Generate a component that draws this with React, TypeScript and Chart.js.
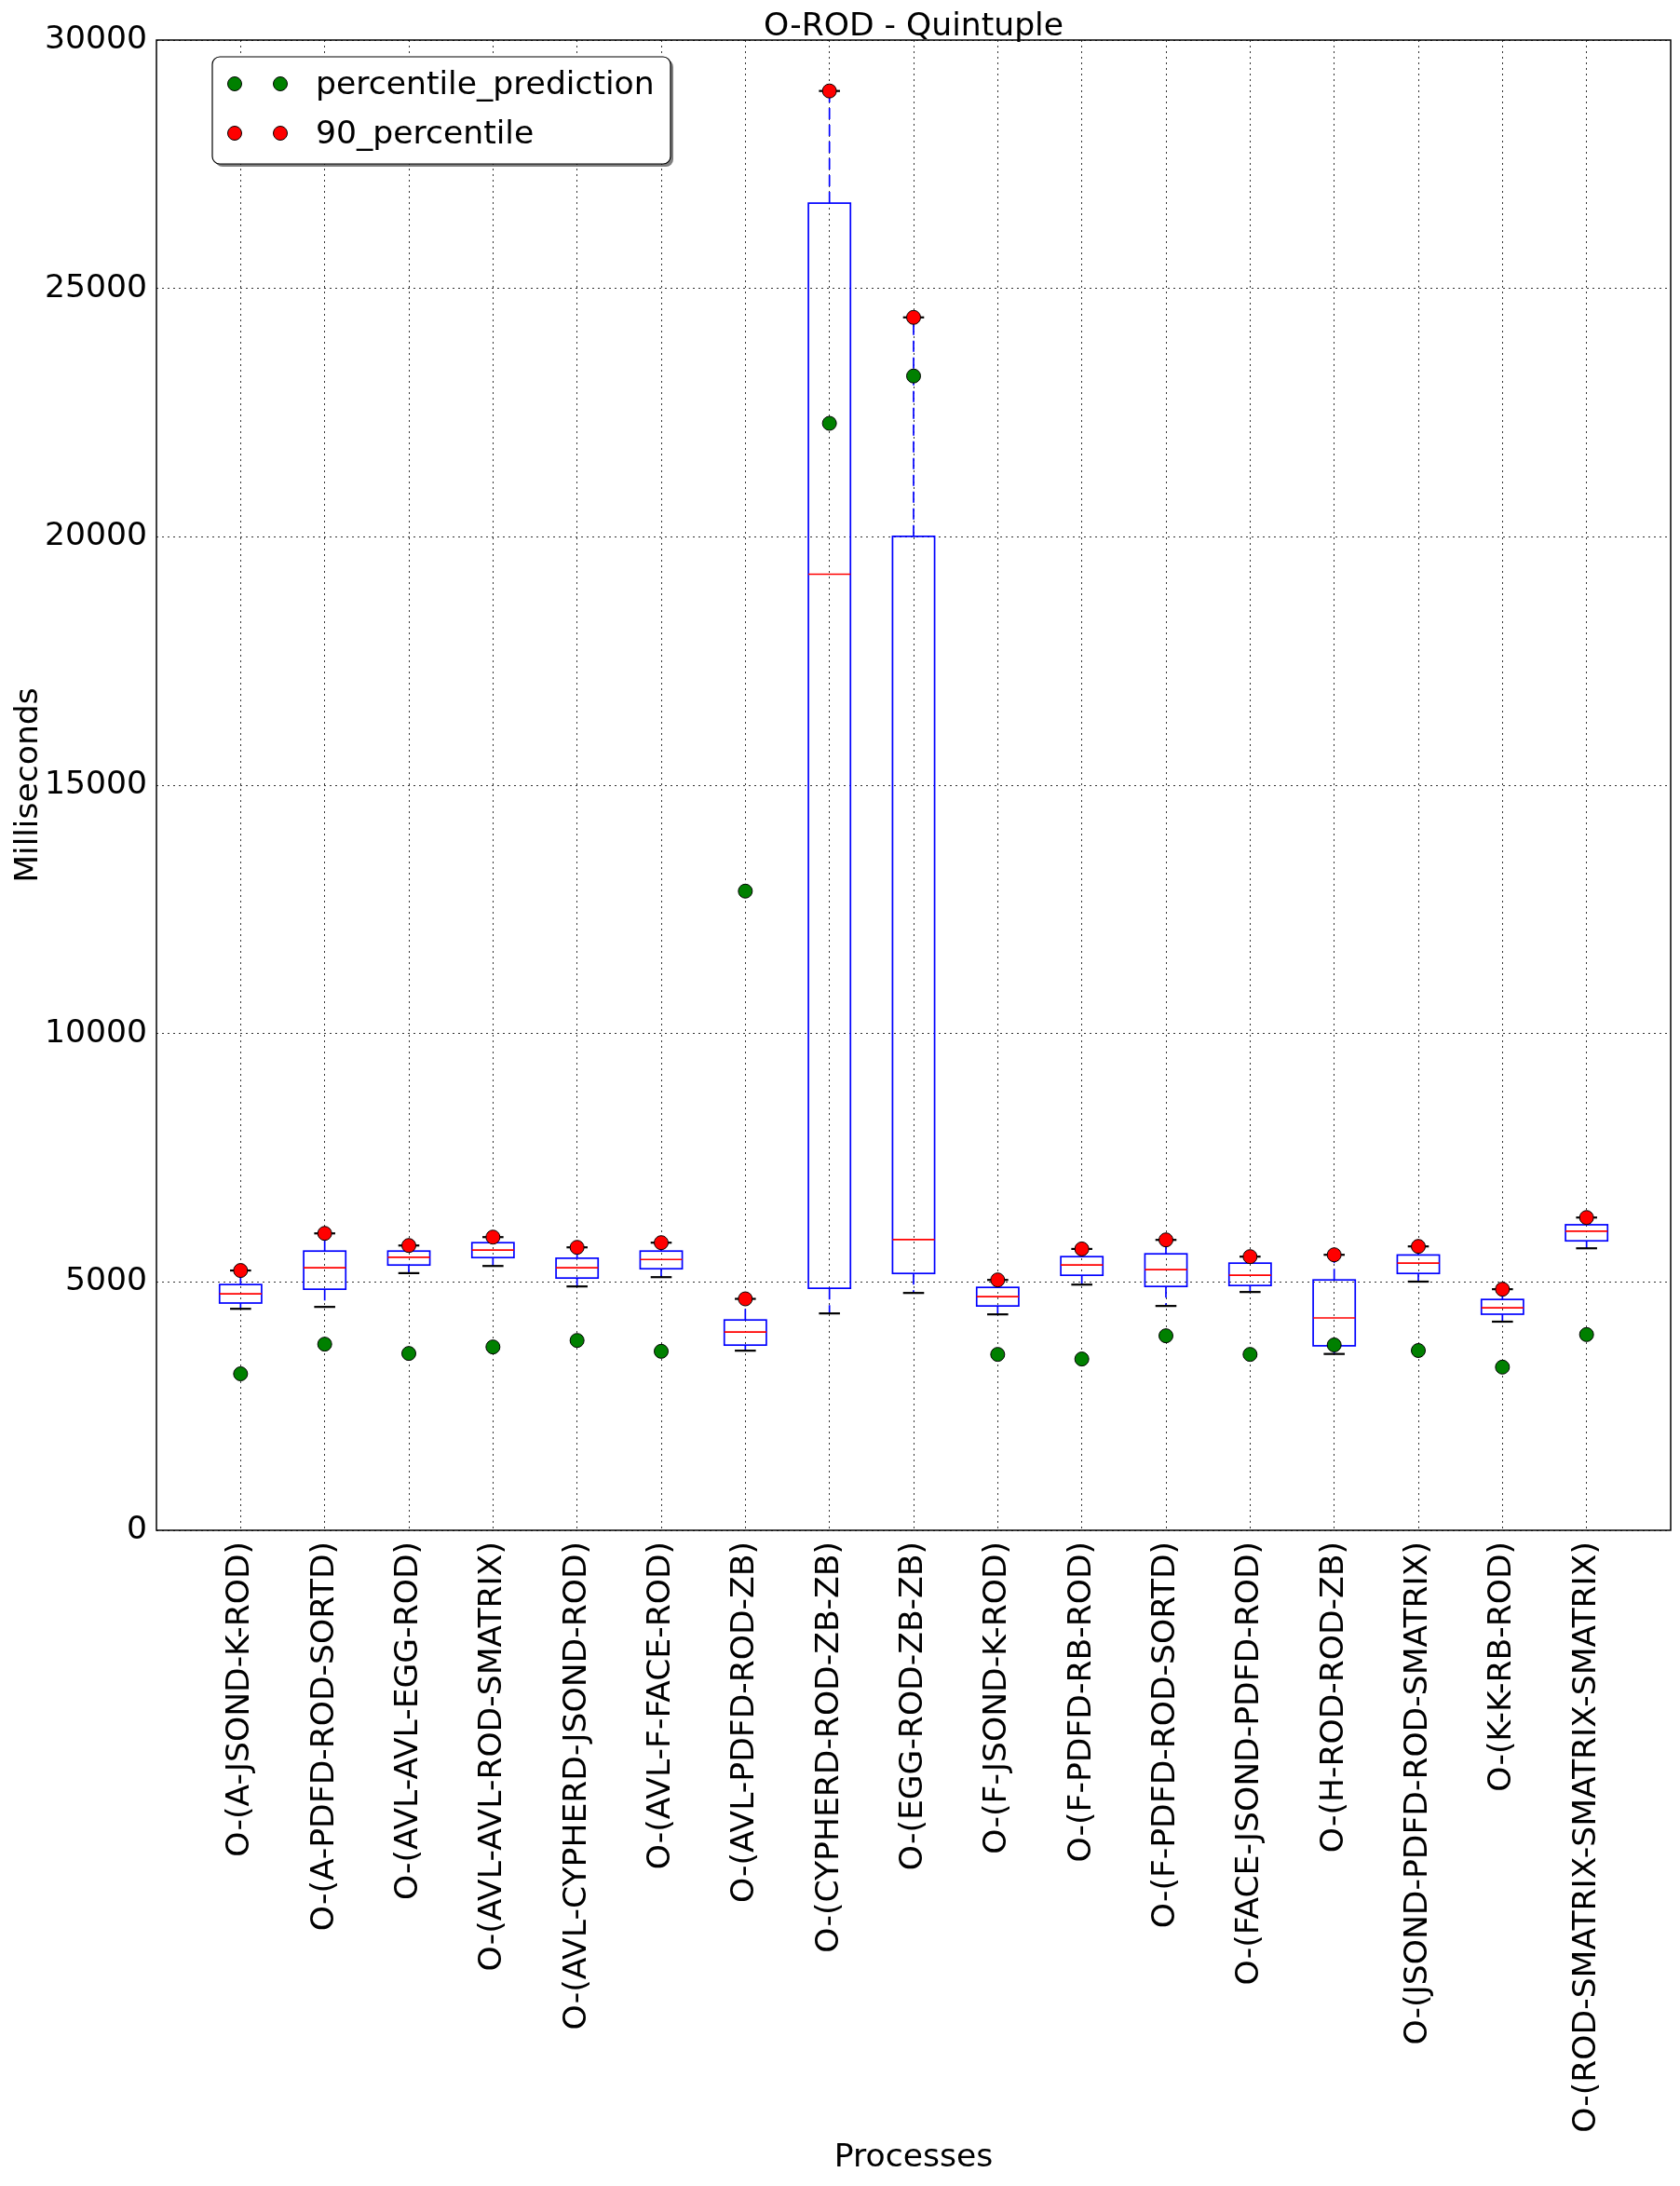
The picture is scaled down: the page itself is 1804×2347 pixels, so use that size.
import React, { useEffect, useRef } from "react";
import { Chart, registerables } from "chart.js";

Chart.register(...registerables);

// ---------- data ----------
const categories = [
  "O-(A-JSOND-K-ROD)",
  "O-(A-PDFD-ROD-SORTD)",
  "O-(AVL-AVL-EGG-ROD)",
  "O-(AVL-AVL-ROD-SMATRIX)",
  "O-(AVL-CYPHERD-JSOND-ROD)",
  "O-(AVL-F-FACE-ROD)",
  "O-(AVL-PDFD-ROD-ZB)",
  "O-(CYPHERD-ROD-ZB-ZB)",
  "O-(EGG-ROD-ZB-ZB)",
  "O-(F-JSOND-K-ROD)",
  "O-(F-PDFD-RB-ROD)",
  "O-(F-PDFD-ROD-SORTD)",
  "O-(FACE-JSOND-PDFD-ROD)",
  "O-(H-ROD-ROD-ZB)",
  "O-(JSOND-PDFD-ROD-SMATRIX)",
  "O-(K-K-RB-ROD)",
  "O-(ROD-SMATRIX-SMATRIX-SMATRIX)",
];

const whiskerLow = [4459, 4497, 5177, 5321, 4909, 5096, 3616, 4366, 4778, 4347, 4946, 4516, 4797, 3550, 5006, 4200, 5677];
const q1 = [4575, 4853, 5340, 5490, 5078, 5265, 3728, 4872, 5171, 4516, 5134, 4909, 4928, 3714, 5171, 4350, 5827];
const median = [4759, 5286, 5496, 5640, 5284, 5452, 3991, 19247, 5852, 4703, 5340, 5246, 5134, 4275, 5378, 4478, 6020];
const q3 = [4947, 5621, 5621, 5790, 5477, 5621, 4234, 26717, 20009, 4890, 5509, 5565, 5378, 5040, 5542, 4647, 6151];
const whiskerHigh = [5230, 5977, 5733, 5902, 5696, 5790, 4659, 28975, 24417, 5040, 5664, 5846, 5509, 5546, 5715, 4853, 6296];
const percentile90 = [5230, 5977, 5733, 5902, 5696, 5790, 4659, 28975, 24417, 5040, 5664, 5846, 5509, 5546, 5715, 4853, 6296];
const percentilePrediction = [3150, 3747, 3560, 3691, 3822, 3603, 12867, 22284, 23237, 3541, 3448, 3916, 3541, 3731, 3619, 3285, 3940];

const yTicks = [0, 5000, 10000, 15000, 20000, 25000, 30000];

const titleText = "O-ROD - Quintuple";
const xTitle = "Processes";
const yTitle = "Milliseconds";
const seriesNames = ["percentile_prediction", "90_percentile"];

// ---------- styling ----------
const FONT = "'DejaVu Sans', 'Liberation Sans', sans-serif";
const FS = 34.6;
const GREEN = "#008000";
const RED = "#ff0000";
const BLUE = "#0000ff";
const PR = 7.5;

const boxPlugin = {
  id: "boxes",
  beforeDatasetsDraw(chart: any) {
    const { ctx } = chart;
    const x = chart.scales.x;
    const y = chart.scales.y;
    const halfBox = x.getPixelForValue(1.25) - x.getPixelForValue(1);
    const halfCap = x.getPixelForValue(1.125) - x.getPixelForValue(1);
    const line = (x1: number, y1: number, x2: number, y2: number) => {
      ctx.beginPath();
      ctx.moveTo(x1, y1);
      ctx.lineTo(x2, y2);
      ctx.stroke();
    };
    categories.forEach((_, i) => {
      const cx = x.getPixelForValue(i + 1);
      const yLow = y.getPixelForValue(whiskerLow[i]);
      const yQ1 = y.getPixelForValue(q1[i]);
      const yMed = y.getPixelForValue(median[i]);
      const yQ3 = y.getPixelForValue(q3[i]);
      const yHigh = y.getPixelForValue(whiskerHigh[i]);
      ctx.save();
      ctx.lineCap = "butt";
      ctx.strokeStyle = BLUE;
      ctx.lineWidth = 1.7;
      ctx.setLineDash([12, 6]);
      line(cx, yQ3, cx, yHigh);
      line(cx, yQ1, cx, yLow);
      ctx.setLineDash([]);
      ctx.strokeStyle = "#000";
      ctx.lineWidth = 2.2;
      line(cx - halfCap, yHigh, cx + halfCap, yHigh);
      line(cx - halfCap, yLow, cx + halfCap, yLow);
      ctx.strokeStyle = BLUE;
      ctx.lineWidth = 1.7;
      ctx.strokeRect(cx - halfBox, yQ3, 2 * halfBox, yQ1 - yQ3);
      ctx.strokeStyle = RED;
      ctx.lineWidth = 1.7;
      line(cx - halfBox, yMed, cx + halfBox, yMed);
      ctx.restore();
    });
  },
};

const decorPlugin = {
  id: "decor",
  afterDraw(chart: any) {
    const { ctx, chartArea } = chart;
    ctx.save();
    ctx.strokeStyle = "#000";
    ctx.lineWidth = 1.5;
    ctx.setLineDash([]);
    ctx.strokeRect(chartArea.left, chartArea.top, chartArea.right - chartArea.left, chartArea.bottom - chartArea.top);

    ctx.fillStyle = "#000";
    ctx.font = `${FS}px ${FONT}`;
    ctx.textAlign = "center";
    ctx.textBaseline = "alphabetic";
    ctx.fillText(titleText, (chartArea.left + chartArea.right) / 2, 38);

    const lx = 228;
    const ly = 61;
    const lw = 492;
    const lh = 115;
    ctx.fillStyle = "rgba(0,0,0,0.5)";
    ctx.beginPath();
    (ctx as any).roundRect(lx + 3, ly + 3, lw, lh, 8);
    ctx.fill();
    ctx.fillStyle = "#fff";
    ctx.strokeStyle = "#000";
    ctx.lineWidth = 1.2;
    ctx.beginPath();
    (ctx as any).roundRect(lx, ly, lw, lh, 8);
    ctx.fill();
    ctx.stroke();

    const rows = [90, 143];
    const baselines = [101, 154];
    const colors = [GREEN, RED];
    rows.forEach((ry, k) => {
      [252, 301].forEach((mx) => {
        ctx.beginPath();
        ctx.arc(mx, ry, PR, 0, Math.PI * 2);
        ctx.fillStyle = colors[k];
        ctx.fill();
        ctx.strokeStyle = "#000";
        ctx.lineWidth = 1;
        ctx.stroke();
      });
      ctx.fillStyle = "#000";
      ctx.font = `${FS}px ${FONT}`;
      ctx.textAlign = "left";
      ctx.textBaseline = "alphabetic";
      ctx.fillText(seriesNames[k], 339, baselines[k]);
    });
    ctx.restore();
  },
};

export default function App() {
  const canvasRef = useRef<HTMLCanvasElement | null>(null);

  useEffect(() => {
    document.body.style.margin = "0";
    const canvas = canvasRef.current;
    if (!canvas) return;
    Chart.defaults.font.family = FONT;

    const chart = new Chart(canvas, {
      type: "scatter",
      data: {
        datasets: [
          {
            label: seriesNames[0],
            data: percentilePrediction.map((v, i) => ({ x: i + 1, y: v })),
            pointRadius: PR,
            pointBackgroundColor: GREEN,
            pointBorderColor: "#000",
            pointBorderWidth: 1,
            showLine: false,
          },
          {
            label: seriesNames[1],
            data: percentile90.map((v, i) => ({ x: i + 1, y: v })),
            pointRadius: PR,
            pointBackgroundColor: RED,
            pointBorderColor: "#000",
            pointBorderWidth: 1,
            showLine: false,
          },
        ],
      },
      options: {
        responsive: false,
        animation: false,
        devicePixelRatio: 1,
        events: [],
        layout: { padding: { top: 43, right: 10, left: 0, bottom: 0 } },
        plugins: {
          legend: { display: false },
          tooltip: { enabled: false },
          title: { display: false },
        },
        scales: {
          x: {
            type: "linear",
            min: 0,
            max: 18,
            afterBuildTicks: (s: any) => {
              s.ticks = categories.map((_, i) => ({ value: i + 1 }));
            },
            afterFit: (s: any) => {
              s.height = 704;
            },
            ticks: {
              autoSkip: false,
              maxRotation: 90,
              minRotation: 90,
              padding: 12,
              color: "#000",
              font: { size: FS, family: FONT },
              callback: (v: any) => categories[Number(v) - 1] ?? "",
            },
            grid: { color: "rgba(0,0,0,0.8)", lineWidth: 1, drawTicks: false },
            border: { display: false, dash: [2, 4] },
            title: {
              display: true,
              text: xTitle,
              color: "#000",
              font: { size: FS, family: FONT },
              padding: { top: 0, bottom: 9 },
            },
          },
          y: {
            type: "linear",
            min: 0,
            max: 30000,
            afterBuildTicks: (s: any) => {
              s.ticks = yTicks.map((v) => ({ value: v }));
            },
            afterFit: (s: any) => {
              s.width = 168;
            },
            ticks: {
              padding: 10,
              color: "#000",
              font: { size: FS, family: FONT },
              callback: (v: any) => String(v),
            },
            grid: { color: "rgba(0,0,0,0.8)", lineWidth: 1, drawTicks: false },
            border: { display: false, dash: [2, 4] },
            title: {
              display: true,
              text: yTitle,
              color: "#000",
              font: { size: FS, family: FONT },
              padding: { top: 10, bottom: 0 },
            },
          },
        },
      } as any,
      plugins: [boxPlugin, decorPlugin],
    });
    return () => chart.destroy();
  }, []);

  return (
    <div style={{ position: "absolute", left: 0, top: 0, width: 1804, height: 2347, background: "#fff" }}>
      <canvas ref={canvasRef} width={1804} height={2347} style={{ display: "block", width: 1804, height: 2347 }} />
    </div>
  );
}
